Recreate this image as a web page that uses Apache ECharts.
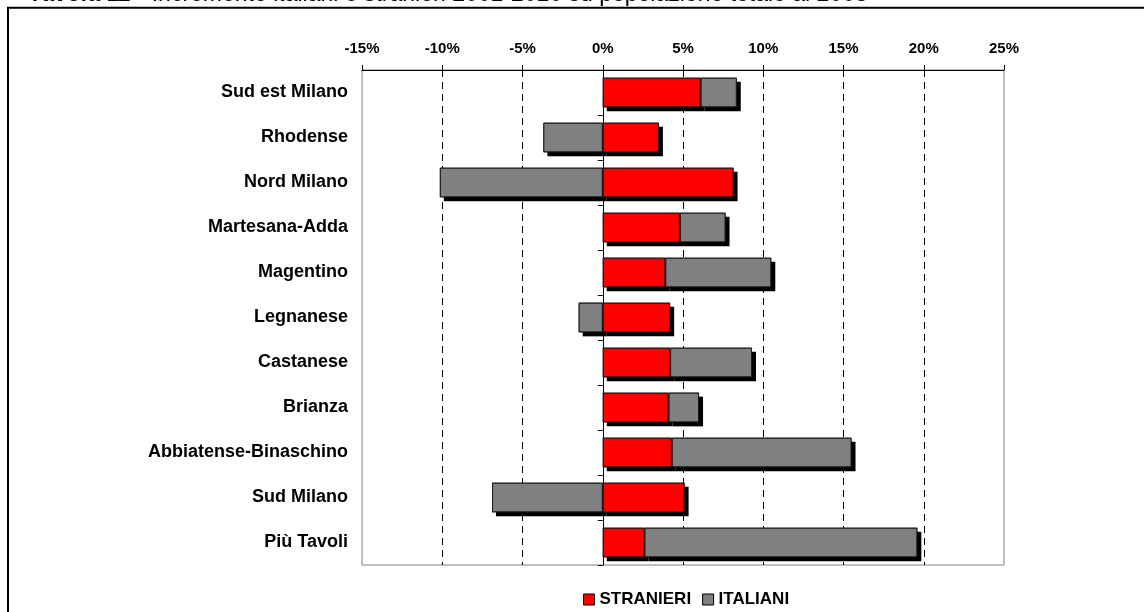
<!DOCTYPE html>
<html>
<head>
<meta charset="utf-8">
<script src="https://cdn.jsdelivr.net/npm/echarts@6/dist/echarts.min.js"></script>
<style>
  html, body { margin: 0; padding: 0; background: #fff; }
  #main { width: 1144px; height: 612px; }
</style>
</head>
<body>
<div id="main"></div>
<script>
// dati: incremento % su popolazione totale
var categorie = ['Sud est Milano', 'Rhodense', 'Nord Milano', 'Martesana-Adda', 'Magentino', 'Legnanese',
    'Castanese', 'Brianza', 'Abbiatense-Binaschino', 'Sud Milano', 'Più Tavoli'];
var stranieri = [6.1, 3.5, 8.15, 4.8, 3.9, 4.2, 4.2, 4.1, 4.3, 5.1, 2.6];
var italiani = [2.25, -3.7, -10.15, 2.85, 6.6, -1.5, 5.1, 1.9, 11.2, -6.9, 17.0];
var tickValori = [-15, -10, -5, 0, 5, 10, 15, 20, 25];

// italiani negativi partono da zero verso sinistra, positivi impilati sopra gli stranieri
var italianiNeg = italiani.map(function (v) { return v < 0 ? v : '-'; });
var italianiPos = italiani.map(function (v) { return v >= 0 ? v : '-'; });

var font = 'Liberation Sans, Arial, sans-serif';

// linee tratteggiate solo dove non c'è il bordo o l'asse
var coloriGriglia = tickValori.map(function (v, i) {
    return (i === 0 || v === 0 || i === tickValori.length - 1) ? 'rgba(0,0,0,0)' : '#000';
});

function barra(nome, stack, dati, stile) {
    return {
        name: nome,
        type: 'bar',
        stack: stack,
        data: dati,
        barCategoryGap: '34%',
        barGap: '-100%',
        itemStyle: stile
    };
}

// ombra nera spostata, disegnata prima delle barre
var stileOmbra = { color: '#000', borderWidth: 0, shadowColor: '#000', shadowBlur: 0, shadowOffsetX: 4, shadowOffsetY: 4 };

var myChart = echarts.init(document.getElementById('main'));

var option = {
    backgroundColor: '#fff',
    animation: false,
    title: {
        text: '{b|Tavola 11} - Incremento italiani e stranieri 2001-2010 su popolazione totale al 2008',
        left: 24,
        top: -22,
        textStyle: {
            fontFamily: font, fontSize: 23, fontWeight: 'normal', color: '#000',
            rich: { b: { fontFamily: font, fontSize: 23, fontWeight: 'bold', fontStyle: 'italic', color: '#000' } }
        }
    },
    graphic: [{
        type: 'rect',
        shape: { x: 8, y: 7.7, width: 1300, height: 800 },
        style: { fill: 'none', stroke: '#000', lineWidth: 2 },
        silent: true
    }],
    legend: {
        data: ['STRANIERI', 'ITALIANI'],
        left: 578,
        top: 586,
        itemWidth: 11,
        itemHeight: 11,
        itemGap: 11,
        icon: 'rect',
        itemStyle: { borderColor: '#000', borderWidth: 1 },
        textStyle: { fontFamily: font, fontSize: 17, fontWeight: 'bold', color: '#000' }
    },
    grid: {
        left: 362, right: 140, top: 70, bottom: 47,
        show: true, borderColor: '#808080', borderWidth: 1
    },
    xAxis: {
        type: 'value',
        position: 'top',
        min: -15, max: 25, interval: 5,
        axisLine: { show: true, onZero: false, lineStyle: { color: '#000', width: 1 } },
        axisTick: { show: true, length: 5, lineStyle: { color: '#000' } },
        axisLabel: { formatter: '{value}%', margin: 14, color: '#000', fontFamily: font, fontSize: 15, fontWeight: 'bold' },
        splitLine: { show: true, lineStyle: { color: coloriGriglia, type: [7, 5], width: 1 } }
    },
    yAxis: [{
        type: 'category',
        data: categorie,
        inverse: true,
        position: 'left',
        axisLine: { show: false, onZero: false },
        axisTick: { show: false },
        axisLabel: { margin: 14, color: '#000', fontFamily: font, fontSize: 18, fontWeight: 'bold' }
    }, {
        // asse dello zero con le tacche tra le categorie
        type: 'category',
        data: categorie,
        inverse: true,
        position: 'left',
        axisLine: { show: true, onZero: true, lineStyle: { color: '#000', width: 1 } },
        axisTick: { show: true, length: 5, interval: 0, lineStyle: { color: '#000' } },
        axisLabel: { show: false }
    }],
    series: [
        barra('ombra', 'ombra', italianiNeg, stileOmbra),
        barra('ombra', 'ombra', stranieri, stileOmbra),
        barra('ombra', 'ombra', italianiPos, stileOmbra),
        barra('ITALIANI', 'tot', italianiNeg, { color: '#808080', borderColor: '#1a1a1a', borderWidth: 1 }),
        barra('STRANIERI', 'tot', stranieri, { color: '#ff0000', borderColor: '#1a1a1a', borderWidth: 1 }),
        barra('ITALIANI', 'tot', italianiPos, { color: '#808080', borderColor: '#1a1a1a', borderWidth: 1 })
    ]
};

myChart.setOption(option);
</script>
</body>
</html>
